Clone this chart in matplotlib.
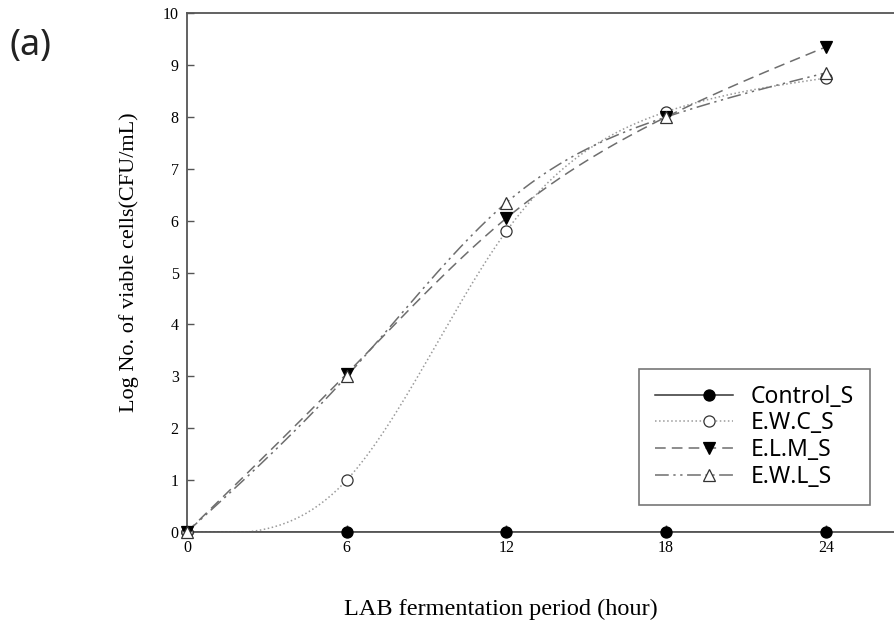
import numpy as np
import matplotlib
matplotlib.use('Agg')
import matplotlib.pyplot as plt
from matplotlib.legend_handler import HandlerLine2D

# Sampling times (hour)
hours = [0, 6, 12, 18, 24]

# Log viable cell counts
control_s = [0, 0, 0, 0, 0]
ewc_s = [0, 1.0, 5.8, 8.1, 8.75]
elm_s = [0, 3.05, 6.05, 8.0, 9.35]
ewl_s = [0, 3.0, 6.35, 8.0, 8.85]

labels = ['Control_S', 'E.W.C_S', 'E.L.M_S', 'E.W.L_S']


# natural cubic spline for drawing the smoothed curves (like SigmaPlot spline)
def spline_curve(x, y, n=200):
    x = np.asarray(x, float)
    y = np.asarray(y, float)
    k = len(x)
    h = np.diff(x)
    A = np.zeros((k, k))
    b = np.zeros(k)
    A[0, 0] = 1
    A[-1, -1] = 1
    for i in range(1, k - 1):
        A[i, i - 1] = h[i - 1]
        A[i, i] = 2 * (h[i - 1] + h[i])
        A[i, i + 1] = h[i]
        b[i] = 3 * ((y[i + 1] - y[i]) / h[i] - (y[i] - y[i - 1]) / h[i - 1])
    c = np.linalg.solve(A, b)
    xs = np.linspace(x[0], x[-1], n)
    ys = np.empty_like(xs)
    for j, xv in enumerate(xs):
        i = min(np.searchsorted(x, xv, side='right') - 1, k - 2)
        bi = (y[i + 1] - y[i]) / h[i] - h[i] * (2 * c[i] + c[i + 1]) / 3
        di = (c[i + 1] - c[i]) / (3 * h[i])
        t = xv - x[i]
        ys[j] = y[i] + bi * t + c[i] * t ** 2 + di * t ** 3
    return xs, np.clip(ys, 0, None)


# legend handle with the marker toward the right end of the line
class MarkerRight(HandlerLine2D):
    def create_artists(self, legend, orig_handle, xdescent, ydescent,
                       width, height, fontsize, trans):
        arts = super().create_artists(legend, orig_handle, xdescent, ydescent,
                                      width, height, fontsize, trans)
        line = arts[0]
        x0 = -xdescent
        line.set_xdata([x0, x0 + 0.7 * width, x0 + width])
        line.set_ydata(np.full(3, (height - ydescent) / 2))
        line.set_markevery([1])
        return arts


fig = plt.figure(figsize=(8.95, 6.31), dpi=100)
ax = fig.add_axes([0.209, 0.157, 0.791, 0.822])

line_col = '#6e6e6e'
styles = [
    (control_s, '-', 'o', 'black', '#333333'),
    (ewc_s, ':', 'o', 'white', '#9a9a9a'),
    (elm_s, (0, (7, 4)), 'v', 'black', line_col),
    (ewl_s, (0, (9, 3, 1.5, 3, 1.5, 3)), '^', 'white', line_col),
]

handles = []
for (vals, ls, mk, mfc, lc), lab in zip(styles, labels):
    mec = '#333333' if mfc == 'white' else 'black'
    xs, ys = spline_curve(hours, vals)
    ax.plot(xs, ys, linestyle=ls, color=lc, linewidth=1.1, zorder=2)
    ax.plot(hours, vals, linestyle='none', marker=mk, markersize=8,
            markerfacecolor=mfc, markeredgecolor=mec,
            markeredgewidth=0.9, zorder=3, clip_on=False)
    h, = ax.plot([], [], linestyle=ls, color=lc, linewidth=1.1, marker=mk,
                 markersize=8, markerfacecolor=mfc, markeredgecolor=mec,
                 markeredgewidth=0.9)
    handles.append(h)

ax.set_xlim(0, 26.6)
ax.set_ylim(0, 10)
ax.set_xticks(hours)
ax.set_yticks(range(0, 11))

for sp in ['left', 'top', 'bottom']:
    ax.spines[sp].set_color('#555555')
    ax.spines[sp].set_linewidth(1.3)
ax.spines['right'].set_visible(False)

ax.tick_params(direction='in', length=5, color='#555555', width=1,
               labelsize=11.5, pad=6)
for t in ax.get_xticklabels() + ax.get_yticklabels():
    t.set_fontfamily('Liberation Serif')

ax.set_xlabel('LAB fermentation period (hour)', fontfamily='Liberation Serif',
              fontsize=17.5)
ax.xaxis.set_label_coords(0.443, -0.129)
ax.set_ylabel('Log No. of viable cells(CFU/mL)', fontfamily='Liberation Serif',
              fontsize=16)
ax.yaxis.set_label_coords(-0.068, 0.52)

leg = ax.legend(handles, labels, loc='lower right', bbox_to_anchor=(0.965, 0.052),
                prop={'family': 'Noto Sans', 'size': 16.5}, frameon=True,
                fancybox=False, handlelength=3.4, labelspacing=0.12,
                borderpad=0.7, handletextpad=0.8, borderaxespad=0,
                handler_map={h: MarkerRight() for h in handles})
leg.get_frame().set_edgecolor('#555555')
leg.get_frame().set_linewidth(1.2)

fig.text(0.011, 0.913, '(a)', fontsize=26, fontfamily='Noto Sans',
         color='#222222', va='baseline')

plt.savefig('out.png', dpi=100)
